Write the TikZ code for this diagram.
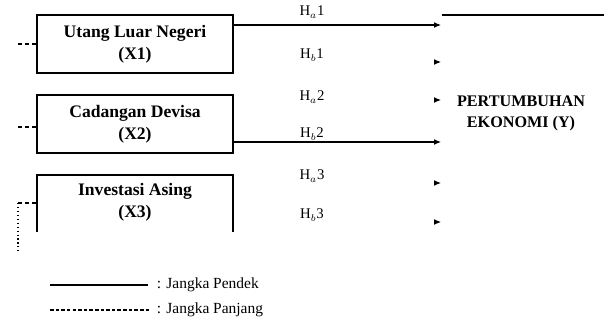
\documentclass[tikz,border=0pt]{standalone}
\usepackage{fontspec}
\setmainfont{Liberation Serif}
\usetikzlibrary{arrows.meta,calc}
\tikzset{
    block/.style = {draw, rectangle, thick, align=center,
        minimum height=58*0.025cm,
        minimum width=196*0.025cm,
        font=\bfseries\fontsize{12.5}{15.5}\selectfont},
    hlabel/.style = {font=\fontsize{10.5}{12}\selectfont},
    arrow/.style={draw, thick, -{Latex[length=7*0.025cm,width=6*0.025cm]}},
    longrun/.style = {draw, thick, dash pattern=on 3pt off 2pt},
    legtext/.style = {anchor=west, font=\fontsize{11}{13}\selectfont}
}
\begin{document}
\begin{tikzpicture}[x=0.025cm,y=-0.025cm]
                \useasboundingbox (0,0) rectangle (604,331);
                \node[block] (x1) at (135,44) {Utang Luar Negeri\\(X1)};
                \node[block] (x2) at (135,124) {Cadangan Devisa\\(X2)};
                \draw[thick] (37,232) -- (37,175) -- (233,175) -- (233,232);
                \node[align=center,font=\bfseries\fontsize{12.5}{15.5}\selectfont] (x3) at (135,202) {Investasi Asing\\(X3)};
                \node[align=center,font=\bfseries\fontsize{11.5}{15}\selectfont] (y) at (521,113) {PERTUMBUHAN\\EKONOMI (Y)};
                \coordinate (t1) at (441,25);
                \coordinate (t2) at (441,62);
                \coordinate (t3) at (441,100);
                \coordinate (t4) at (441,142);
                \coordinate (t5) at (441,183);
                \coordinate (t6) at (441,222);
                \draw[arrow] (x1.east |- 0,25) -- (t1);
                \draw[arrow] (x2.east |- 0,142) -- (t4);
                \foreach \t in {t2,t3,t5,t6}
                    \draw[arrow] ($(\t)+(-3,0)$) -- (\t);
                \draw[thick] (442,15) -- (604,15);
                \node[hlabel] (ha1) at (312,12) {H$_a$1};
                \node[hlabel] (hb1) at (312,55) {H$_b$1};
                \node[hlabel] (ha2) at (312,97) {H$_a$2};
                \node[hlabel] (hb2) at (312,134) {H$_b$2};
                \node[hlabel] (ha3) at (312,176) {H$_a$3};
                \node[hlabel] (hb3) at (312,215) {H$_b$3};
                \draw[longrun] (18,44) -- (x1.west);
                \draw[longrun] (18,127) -- (x2.west |- 0,127);
                \draw[longrun] (18,203) -- (37,203);
                \draw[thick, dotted] (18,203) -- (18,252);
                \draw[thick] (50,285) -- (148,285);
                \node[legtext] (pendek) at (152,285) {: Jangka Pendek};
                \draw[thick, dash pattern=on 2.5pt off 1.5pt] (50,310) -- (150,310);
                \node[legtext] (panjang) at (152,310) {: Jangka Panjang};
            \end{tikzpicture}
\end{document}
